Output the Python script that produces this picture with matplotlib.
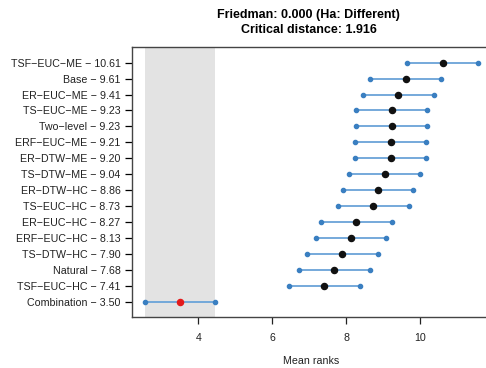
import matplotlib
matplotlib.use("Agg")
import matplotlib.pyplot as plt

names = ["TSF-EUC-ME", "Base", "ER-EUC-ME", "TS-EUC-ME", "Two-level", "ERF-EUC-ME",
         "ER-DTW-ME", "TS-DTW-ME", "ER-DTW-HC", "TS-EUC-HC", "ER-EUC-HC", "ERF-EUC-HC",
         "TS-DTW-HC", "Natural", "TSF-EUC-HC", "Combination"]
ranks = [10.61, 9.61, 9.41, 9.23, 9.23, 9.21, 9.20, 9.04, 8.86, 8.73, 8.27, 8.13,
         7.90, 7.68, 7.41, 3.50]
cd = 1.916
friedman_p = 0.000
best = "Combination"

plt.rcParams['font.family'] = ['Liberation Sans', 'DejaVu Sans']
fig = plt.figure(figsize=(4.86, 3.68), dpi=100)
ax_w = 1 - 131.5/486 + 0.01
ax = fig.add_axes([131.5/486, 1-316.7/368, ax_w, (316.7-46.7)/368])

half = cd / 2
bi = names.index(best)
ax.axvspan(ranks[bi]-half, ranks[bi]+half, color="#e3e3e3", zorder=0, lw=0)

ys = list(range(len(names)))
for y, r, n in zip(ys, ranks, names):
    ax.plot([r-half, r+half], [y, y], color="#6aa3d8", lw=1.3, zorder=2)
    ax.plot([r-half, r+half], [y, y], 'o', color="#3a7fc1", ms=3.0, zorder=3)
    ax.plot([r], [y], 'o', color="#e31a1c" if n == best else "#111111", ms=4.4, zorder=4)

ax.set_xlim(2.19, 2.19 + (ax_w*486)/36.95)
ax.set_ylim(len(names)-1+0.94, -1)
ax.set_yticks(ys)
ax.set_yticklabels([f"{n.replace('-', '−')} − {r:.2f}" for n, r in zip(names, ranks)], fontsize=7.7, color="#222222")
ax.set_xticks([4, 6, 8, 10])
ax.tick_params(axis='x', labelsize=7.7, colors="#222222", length=5, pad=7, width=0.9)
ax.tick_params(axis='y', length=5, width=0.9, pad=3)
for s in ['left', 'top', 'bottom']:
    ax.spines[s].set_color("#444444")
    ax.spines[s].set_linewidth(1.0)
ax.spines['right'].set_visible(False)
ax.set_xlabel("Mean ranks", fontsize=7.7, labelpad=9, color="#222222")
ax.set_title(f"Friedman: {friedman_p:.3f} (Ha: Different)\nCritical distance: {cd:.3f}",
             fontsize=9, fontweight='bold', pad=10, linespacing=1.35)
ax.title.set_position((0.5*(486-131.5)/(ax_w*486), 1))

fig.savefig("out.png", dpi=100)
